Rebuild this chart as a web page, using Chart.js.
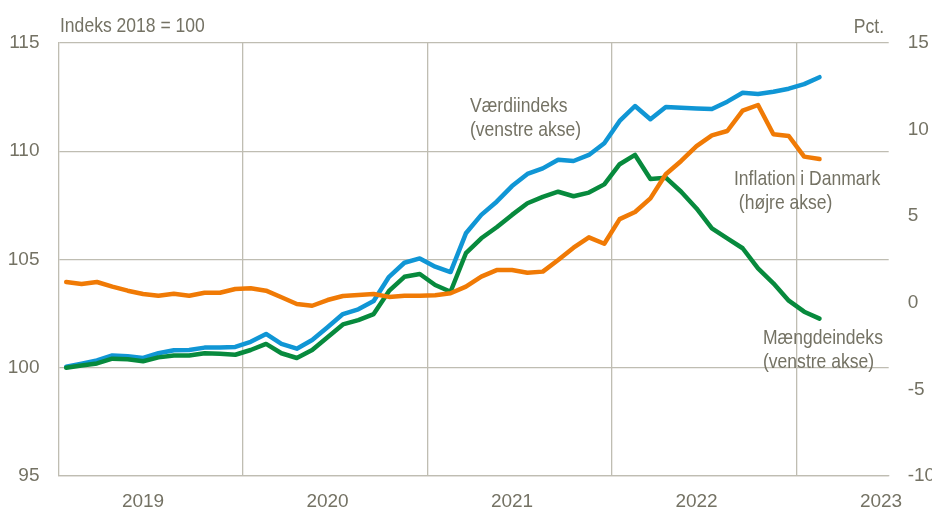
<!DOCTYPE html>
<html>
<head>
<meta charset="utf-8">
<script src="https://cdn.jsdelivr.net/npm/chart.js@4"></script>
<style>
  html, body { margin: 0; padding: 0; background: #ffffff; }
  #wrap { width: 932px; height: 510px; position: relative; }
</style>
</head>
<body>
<div id="wrap"><canvas id="c" width="932" height="510"></canvas></div>
<script>
// ---- Data (monthly, Jan 2019 - Feb 2023; axis runs to Jun 2023) ----
const months = [
  "2019-01","2019-02","2019-03","2019-04","2019-05","2019-06","2019-07","2019-08","2019-09","2019-10","2019-11","2019-12",
  "2020-01","2020-02","2020-03","2020-04","2020-05","2020-06","2020-07","2020-08","2020-09","2020-10","2020-11","2020-12",
  "2021-01","2021-02","2021-03","2021-04","2021-05","2021-06","2021-07","2021-08","2021-09","2021-10","2021-11","2021-12",
  "2022-01","2022-02","2022-03","2022-04","2022-05","2022-06","2022-07","2022-08","2022-09","2022-10","2022-11","2022-12",
  "2023-01","2023-02"
];
const yearLabels = ["2019","2020","2021","2022","2023"];
const leftTicks = [95, 100, 105, 110, 115];
const rightTicks = [-10, -5, 0, 5, 10, 15];

// Værdiindeks (venstre akse)
const valueIndex = [
  100.05,100.19,100.34,100.57,100.53,100.45,100.67,100.81,100.82,100.93,100.94,100.96,
  101.20,101.56,101.10,100.88,101.28,101.87,102.48,102.70,103.08,104.20,104.85,105.05,
  104.67,104.42,106.21,107.06,107.67,108.39,108.95,109.21,109.61,109.55,109.83,110.37,
  111.40,112.09,111.48,112.04,112.01,111.98,111.95,112.29,112.70,112.64,112.75,112.89,
  113.10,113.42
];
// Mængdeindeks (venstre akse)
const volumeIndex = [
  100.00,100.10,100.20,100.42,100.39,100.30,100.48,100.57,100.57,100.67,100.65,100.60,
  100.82,101.10,100.67,100.45,100.82,101.41,102.00,102.20,102.48,103.55,104.20,104.33,
  103.82,103.51,105.29,105.98,106.49,107.06,107.60,107.89,108.13,107.92,108.09,108.47,
  109.40,109.83,108.72,108.78,108.13,107.36,106.44,105.98,105.52,104.59,103.90,103.10,
  102.59,102.27
];
// Inflation i Danmark, pct. (højre akse)
const inflation = [
  1.20,1.08,1.20,0.93,0.70,0.51,0.41,0.52,0.41,0.58,0.58,0.80,
  0.84,0.70,0.32,-0.07,-0.17,0.16,0.39,0.45,0.51,0.34,0.41,0.41,
  0.43,0.55,0.93,1.51,1.89,1.89,1.74,1.80,2.47,3.18,3.78,3.41,
  4.83,5.24,6.03,7.42,8.19,9.05,9.67,9.92,11.09,11.42,9.73,9.63,
  8.44,8.30
];
const totalMonths = 54; // Jan 2019 .. Jun 2023

// ---- Styling ----
const TEXT = '#747264';
const GRID = '#bfbdb2';
const BLUE = '#1096d5';
const GREEN = '#078a3d';
const ORANGE = '#f07a05';
const FAMILY = "'Liberation Sans', Arial, sans-serif";
const TICK_SIZE = 19;
const NOTE_SIZE = 21;
const NARROW_X = 0.835; // condensed look of the original labels

const toXY = arr => arr.map((v, i) => ({ x: i, y: v }));

const annotations = [
  { lines: ["Værdiindeks", "(venstre akse)"], x: 470, y: 112, align: 'left' },
  { lines: ["Inflation i Danmark", " (højre akse)"], x: 734, y: 185, align: 'left' },
  { lines: ["Mængdeindeks", "(venstre akse)"], x: 763, y: 344, align: 'left' },
  { lines: ["Indeks 2018 = 100"], x: 60, y: 32, align: 'left' },
  { lines: ["Pct."], x: 884, y: 33, align: 'right' }
];

const textPlugin = {
  id: 'texts',
  afterDatasetsDraw(chart) {
    const ctx = chart.ctx;
    ctx.save();
    ctx.fillStyle = TEXT;
    ctx.font = NOTE_SIZE + 'px ' + FAMILY;
    ctx.textBaseline = 'alphabetic';
    annotations.forEach(a => {
      a.lines.forEach((t, k) => {
        ctx.save();
        ctx.translate(a.x, a.y + k * 23.5);
        ctx.scale(NARROW_X, 1);
        ctx.textAlign = a.align;
        ctx.fillText(t, 0, 0);
        ctx.restore();
      });
    });
    ctx.restore();
  }
};

Chart.defaults.font.family = FAMILY;
Chart.defaults.font.size = TICK_SIZE;
Chart.defaults.color = TEXT;

new Chart(document.getElementById('c'), {
  type: 'line',
  data: {
    datasets: [
      { label: 'Inflation i Danmark', data: toXY(inflation), yAxisID: 'yR', borderColor: ORANGE, backgroundColor: ORANGE, borderWidth: 4.5, pointRadius: 0, tension: 0, order: 1, borderJoinStyle: 'round', borderCapStyle: 'round' },
      { label: 'Mængdeindeks', data: toXY(volumeIndex), yAxisID: 'yL', borderColor: GREEN, backgroundColor: GREEN, borderWidth: 4.5, pointRadius: 0, tension: 0, order: 2, borderJoinStyle: 'round', borderCapStyle: 'round' },
      { label: 'Værdiindeks', data: toXY(valueIndex), yAxisID: 'yL', borderColor: BLUE, backgroundColor: BLUE, borderWidth: 4.5, pointRadius: 0, tension: 0, order: 3, borderJoinStyle: 'round', borderCapStyle: 'round' }
    ]
  },
  options: {
    responsive: false,
    animation: false,
    events: [],
    layout: { padding: { top: 43, left: 0, right: 0, bottom: 0 } },
    plugins: { legend: { display: false }, tooltip: { enabled: false } },
    scales: {
      x: {
        type: 'linear',
        min: -0.5,
        max: totalMonths - 0.5,
        afterBuildTicks(scale) {
          const t = [];
          for (let y = 0; y < yearLabels.length; y++) {
            t.push({ value: y * 12 - 0.5 });
            t.push({ value: y * 12 + 5 });
          }
          scale.ticks = t;
        },
        afterFit(scale) { scale.height = 34; },
        ticks: {
          autoSkip: false,
          maxRotation: 0,
          padding: 14,
          callback(value) {
            if (Number.isInteger(value)) return yearLabels[Math.round((value - 5) / 12)];
            return '';
          }
        },
        grid: {
          drawTicks: false,
          lineWidth: 1.3,
          color: c => (c.tick && !Number.isInteger(c.tick.value) && c.tick.value > 0) ? GRID : 'rgba(0,0,0,0)'
        },
        border: { display: true, color: GRID, width: 1.3 }
      },
      yL: {
        position: 'left',
        min: 95, max: 115,
        afterBuildTicks(scale) { scale.ticks = leftTicks.map(v => ({ value: v })); },
        afterFit(scale) { scale.width = 58.5; },
        ticks: { padding: 19 },
        grid: { drawTicks: false, color: GRID, lineWidth: 1.3 },
        border: { display: true, color: GRID, width: 1.3 }
      },
      yR: {
        position: 'right',
        min: -10, max: 15,
        afterBuildTicks(scale) { scale.ticks = rightTicks.map(v => ({ value: v })); },
        afterFit(scale) { scale.width = 43.3; },
        ticks: { padding: 19 },
        grid: { display: false, drawTicks: false },
        border: { display: false }
      }
    }
  },
  plugins: [textPlugin]
});
</script>
</body>
</html>
